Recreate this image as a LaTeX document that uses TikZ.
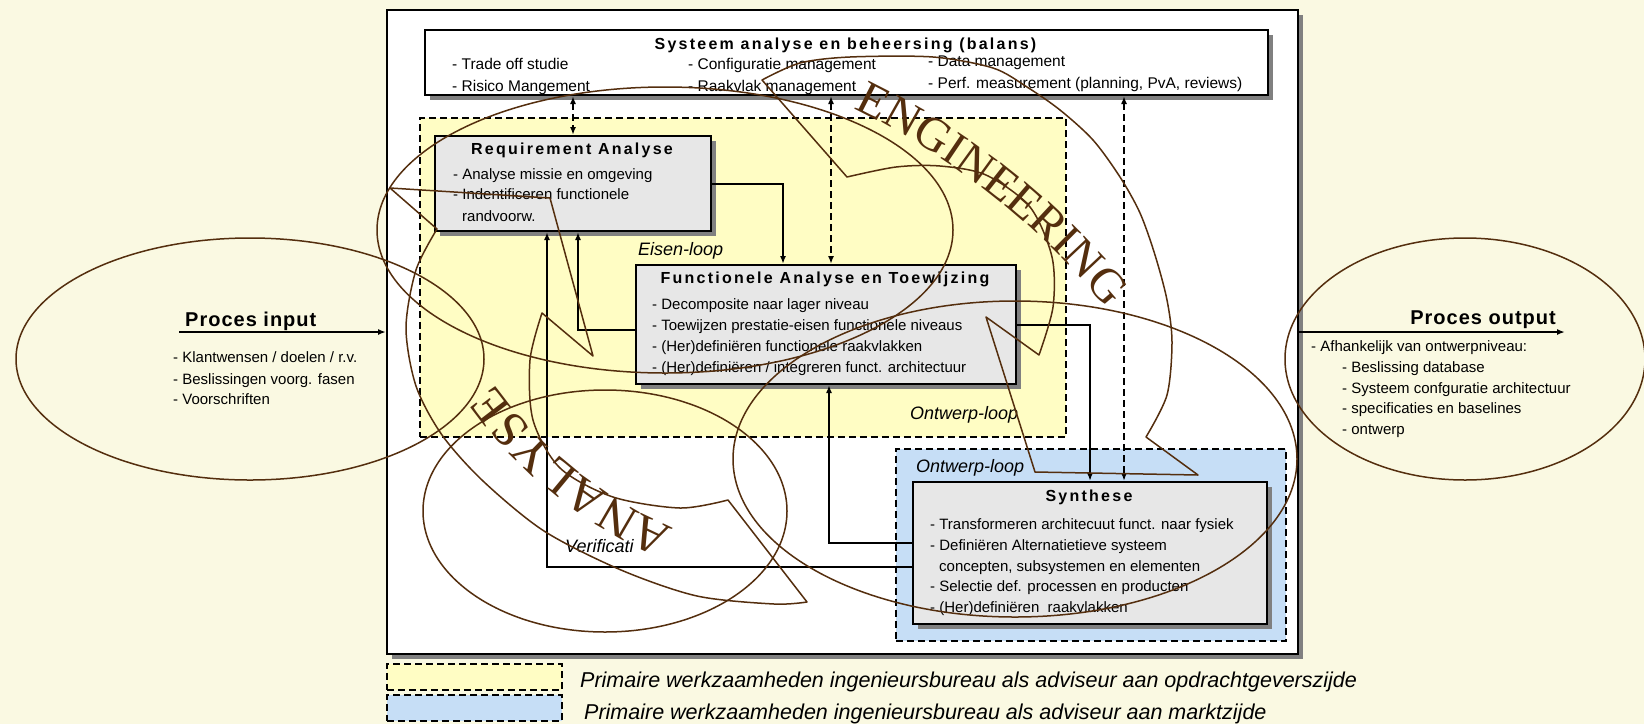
\documentclass[tikz,border=0pt]{standalone}
\usepackage{fontspec}
\setmainfont{Liberation Sans}
\newfontfamily\ttlfont[LetterSpace=14]{Liberation Sans}
\newfontfamily\prcfont[LetterSpace=5]{Liberation Sans}
\newfontfamily\wordfont{Liberation Serif}
\usetikzlibrary{arrows.meta,shadows,decorations.text,calc}
\definecolor{bgcream}{RGB}{250,249,226}
\definecolor{yelfill}{RGB}{255,253,196}
\definecolor{blufill}{RGB}{198,222,246}
\definecolor{boxgray}{RGB}{231,231,231}
\definecolor{shadowgray}{RGB}{128,128,128}
\definecolor{brownln}{RGB}{84,46,14}
\begin{document}
\begin{tikzpicture}[x=1pt,y=-1pt,
  frame/.style={draw=black, line width=2pt, inner sep=0pt, anchor=north west},
  shadowed/.style={drop shadow={shadow xshift=5pt,shadow yshift=-5pt,fill=shadowgray,opacity=1}},
  procbox/.style={frame, fill=boxgray, shadowed},
  region/.style={draw=black, line width=1.6pt, dash pattern=on 7pt off 4pt, inner sep=0pt, anchor=north west},
  conn/.style={line width=2pt, -{Latex[length=8pt,width=6pt]}},
  dconn/.style={line width=2pt, dash pattern=on 7pt off 4pt, {Latex[length=8pt,width=6pt]}-{Latex[length=8pt,width=6pt]}},
  ttl/.style={inner sep=0pt, anchor=base, font=\ttlfont\bfseries\fontsize{16}{19}\selectfont},
  sat/.style={inner sep=0pt, anchor=base west, font=\fontsize{15.5}{18}\selectfont},
  bt/.style={inner sep=0pt, anchor=base west, font=\fontsize{15}{18}\selectfont},
  il/.style={inner sep=0pt, anchor=base west, font=\itshape\fontsize{18}{20}\selectfont},
  prc/.style={inner sep=0pt, anchor=base west, font=\prcfont\bfseries\fontsize{20}{24}\selectfont},
  lg/.style={inner sep=0pt, anchor=base west, font=\itshape\fontsize{21.5}{24}\selectfont},
  brn/.style={draw=brownln, line width=1.5pt, line join=round}
]
\useasboundingbox (0,0) rectangle (1644,724);
\fill[bgcream] (0,0) rectangle (1644,724);

% frames and regions
\node[frame, fill=white, shadowed, minimum width=911pt, minimum height=644pt] (main) at (386,9) {};
\node[region, fill=yelfill, minimum width=646pt, minimum height=319pt] (yreg) at (419,117) {};
\node[region, fill=blufill, minimum width=390pt, minimum height=192pt] (breg) at (895,448) {};
\node[frame, fill=white, shadowed, minimum width=843pt, minimum height=65pt] (sa) at (424,29) {};
\node[procbox, minimum width=276pt, minimum height=95pt] (ra) at (434,135) {};
\node[procbox, minimum width=380pt, minimum height=119pt] (fa) at (635,264) {};
\node[procbox, minimum width=354pt, minimum height=142pt] (syn) at (912,481) {};

% connectors
\draw[conn] (ra.east) -| ([xshift=-43pt]fa.north);
\draw[conn] ([yshift=-5.5pt]fa.west) -| ([xshift=5pt]ra.south);
\draw[conn] ([yshift=-14pt]syn.west) -| ([xshift=-26pt]ra.south);
\draw[conn] ([yshift=10pt]syn.west) -| ([xshift=3pt]fa.south);
\draw[conn] (fa.east) -| (syn.north);
\coordinate (fa2) at ($(fa.north)+(5,0)$);
\coordinate (syn2) at ($(syn.north)+(34,0)$);
\draw[dconn] (ra.north |- sa.south) -- (ra.north);
\draw[dconn] (fa2 |- sa.south) -- (fa2);
\draw[dconn] (syn2 |- sa.south) -- (syn2);
\coordinate (pin) at (179,332);
\coordinate (pout) at (1565,332);
\draw[conn] (pin) -- (pin -| main.west);
\draw[conn] (pout -| main.east) -- (pout);

% top box text
\node[ttl] (saT) at (845.5,49) {Systeem analyse en beheersing (balans)};
\node[sat] (sa1) at (452,69) {- Trade off studie};
\node[sat] (sa2) at (452,91) {- Risico Mangement};
\node[sat] (sa3) at (688,69) {- Configuratie management};
\node[sat] (sa4) at (688,91) {- Raakvlak management};
\node[sat] (sa5) at (928,66) {- Data management};
\node[sat] (sa6) at (928,88) {- Perf. measurement (planning, PvA, reviews)};

% requirement
\node[ttl] (raT) at (572,154) {Requirement Analyse};
\node[bt] (ra1) at (453,179) {- Analyse missie en omgeving};
\node[bt] (ra2) at (453,199) {- Indentificeren functionele};
\node[bt] (ra3) at (462,221) {randvoorw.};

% functionele
\node[ttl] (faT) at (825,283) {Functionele Analyse en Toewijzing};
\node[bt] (fa1) at (652,309) {- Decomposite naar lager niveau};
\node[bt] (fa3) at (652,330) {- Toewijzen prestatie-eisen functionele niveaus};
\node[bt] (fa4) at (652,351) {- (Her)definiëren functionele raakvlakken};
\node[bt] (fa5) at (652,372) {- (Her)definiëren / integreren funct. architectuur};

% synthese
\node[ttl] (synT) at (1089,501) {Synthese};
\node[bt] (sy1) at (930,529) {- Transformeren architecuut funct. naar fysiek};
\node[bt] (sy2) at (930,550) {- Definiëren Alternatietieve systeem};
\node[bt] (sy3) at (939,571) {concepten, subsystemen en elementen};
\node[bt] (sy4) at (930,591) {- Selectie def. processen en producten};
\node[bt] (sy5) at (930,612) {- (Her)definiëren\ \ raakvlakken};

% loop labels
\node[il] (l1) at (638,255) {Eisen-loop};
\node[il] (l2) at (910,419) {Ontwerp-loop};
\node[il] (l3) at (916,472) {Ontwerp-loop};
\node[il] (l4) at (565,552) {Verificati};

% input / output
\node[prc] (inT) at (185,326) {Proces input};
\node[bt] (in1) at (173,362) {- Klantwensen / doelen / r.v.};
\node[bt] (in2) at (173,384) {- Beslissingen voorg. fasen};
\node[bt] (in3) at (173,404) {- Voorschriften};
\node[prc, anchor=base east] (outT) at (1556,324) {Proces output};
\node[bt] (o1) at (1311,351) {- Afhankelijk van ontwerpniveau:};
\node[bt] (o2) at (1342,372) {- Beslissing database};
\node[bt] (o3) at (1342,393) {- Systeem confguratie architectuur};
\node[bt] (o4) at (1342,413) {- specificaties en baselines};
\node[bt] (o5) at (1342,434) {- ontwerp};

% legend
\node[region, fill=yelfill, minimum width=175pt, minimum height=26pt] (leg1) at (386,663) {};
\node[region, fill=blufill, minimum width=175pt, minimum height=26pt] (leg2) at (386,694) {};
\node[lg] (lt1) at (580,687) {Primaire werkzaamheden ingenieursbureau als adviseur aan opdrachtgeverszijde};
\node[lg] (lt2) at (584,719) {Primaire werkzaamheden ingenieursbureau als adviseur aan marktzijde};

% brown outlines
\draw[brn] (250,359) ellipse [x radius=234, y radius=121];
\draw[brn] (1465,359) ellipse [x radius=180, y radius=121];
\draw[brn] (1015,459) ellipse [x radius=282, y radius=158];
\draw[brn] (605,511) ellipse [x radius=182, y radius=121];
\draw[brn] (665,230) ellipse [x radius=288, y radius=143];
% ENGINEERING shape
\draw[brn] plot[smooth] coordinates {(762,80) (800,63) (850,57) (933,57) (993,68) (1027,87) (1060,110) (1093,140) (1120,177) (1140,213) (1155,255) (1167,300) (1172,342) (1167,395) (1146,437)} -- (1198,475) -- (1035,472) -- (986,317) -- (1039,355) -- plot[smooth] coordinates {(1039,355) (1053,307) (1052,257) (1030,207) (986,175) (940,166) (896,167) (847,177)} -- cycle;
% ANALYSE shape
\draw[brn] plot[smooth] coordinates {(437,229) (416,270) (406,328) (416,386) (442,435) (483,481) (544,531) (621,570) (697,596) (774,604) (807,602)} -- (728,500) -- plot[smooth] coordinates {(728,500) (680,508) (613,497) (560,468) (533,420) (530,360) (542,313)} -- (593,356) -- (550,198) -- (390,188) -- cycle;
% curved words
\path[decorate, decoration={text along path, text={|\wordfont\fontsize{48}{48}\selectfont\color{brownln}|ENGINEERING}, text align=center}] (526.5,783.4) ++(-72:750) arc[start angle=-72, end angle=-31.4, radius=750];
\path[decorate, decoration={text along path, text={|\wordfont\fontsize{50}{50}\selectfont\color{brownln}|ANALYSE}, text align=center}] (837,141) ++(100:420) arc[start angle=100, end angle=157.5, radius=420];
\end{tikzpicture}
\end{document}
